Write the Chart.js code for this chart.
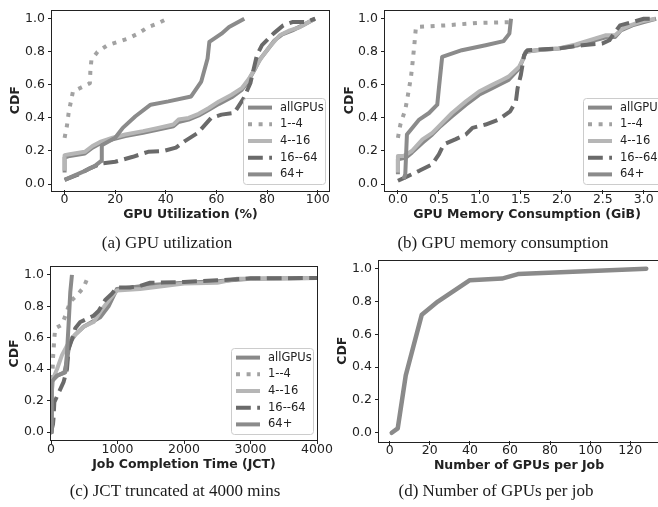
<!DOCTYPE html>
<html><head><meta charset="utf-8">
<script src="https://cdn.jsdelivr.net/npm/chart.js@4.4.1/dist/chart.umd.min.js"></script>
<style>
html,body{margin:0;padding:0;background:#fff;}
body{position:relative;width:658px;height:507px;overflow:hidden;}
canvas{position:absolute;display:block;}
.cap{position:absolute;font-family:'Liberation Serif','Times New Roman',serif;font-size:17px;color:#1a1a1a;white-space:nowrap;transform:translate(-50%,-50%);line-height:1;}
</style></head>
<body>
<canvas id="ca" width="330" height="230" style="left:0;top:0"></canvas>
<canvas id="cb" width="342" height="230" style="left:330px;top:0"></canvas>
<canvas id="cc" width="335" height="240" style="left:0;top:250px"></canvas>
<canvas id="cd" width="342" height="240" style="left:330px;top:250px"></canvas>
<div class="cap" style="left:167px;top:242px">(a) GPU utilization</div>
<div class="cap" style="left:503px;top:242px">(b) GPU memory consumption</div>
<div class="cap" style="left:175px;top:490px">(c) JCT truncated at 4000 mins</div>
<div class="cap" style="left:496px;top:490px">(d) Number of GPUs per job</div>
<script>
// ---------- data ----------
const seriesLabels = ['allGPUs', '1--4', '4--16', '16--64', '64+'];
const cdfTicks = [0, 0.2, 0.4, 0.6, 0.8, 1.0];
const utilTicks = [0, 20, 40, 60, 80, 100];
const memTicks = [0, 0.5, 1.0, 1.5, 2.0, 2.5, 3.0];
const jctTicks = [0, 1000, 2000, 3000, 4000];
const gpuTicks = [0, 20, 40, 60, 80, 100, 120];

// (a) GPU utilization (%) -> CDF
const utilAll = [[0,0.07],[0,0.16],[2,0.17],[8,0.185],[11,0.22],[14,0.245],[19,0.27],[24,0.29],[31,0.31],[37,0.33],[43,0.35],[45,0.375],[49,0.39],[53,0.415],[57,0.45],[61,0.485],[66,0.525],[70,0.57],[72,0.61],[75,0.69],[77,0.75],[80,0.81],[83,0.87],[86,0.905],[90,0.93],[94,0.96],[99,1.0]];
const util1to4 = [[0,0.28],[0.9,0.35],[1.6,0.43],[2.5,0.5],[3.3,0.56],[6,0.58],[10,0.61],[10.2,0.69],[10.6,0.75],[13,0.8],[17,0.84],[21,0.86],[25,0.88],[29,0.91],[33,0.95],[36.5,0.97],[40.5,1.0]];
const util4to16 = [[0,0.08],[0,0.175],[2,0.18],[8,0.195],[11,0.23],[14,0.255],[19,0.28],[24,0.3],[31,0.32],[37,0.34],[43,0.36],[45,0.39],[49,0.4],[53,0.425],[57,0.46],[61,0.5],[66,0.54],[70,0.58],[73,0.64],[76,0.72],[78,0.77],[81,0.83],[85,0.9],[89,0.93],[93,0.95],[96.5,0.98],[99,1.0]];
const util16to64 = [[0,0.025],[5,0.055],[10,0.095],[14.5,0.125],[20,0.135],[27,0.165],[33,0.195],[39,0.2],[44,0.22],[47.5,0.26],[52.7,0.31],[57.9,0.4],[62,0.42],[67,0.43],[70.8,0.52],[73.4,0.61],[76,0.78],[78,0.84],[82.5,0.91],[86.4,0.96],[90,0.98],[95,0.98],[99,1.0]];
const util64plus = [[0,0.025],[7.4,0.075],[12,0.11],[14.5,0.14],[14.7,0.235],[20,0.28],[23,0.34],[28,0.41],[34,0.48],[41,0.5],[50,0.53],[54,0.62],[56.5,0.76],[57.2,0.86],[62,0.91],[65,0.95],[71,1.0]];

// (b) GPU memory consumption (GiB) -> CDF
const memAll = [[0,0.06],[0,0.15],[0.1,0.16],[0.17,0.19],[0.3,0.25],[0.42,0.3],[0.52,0.35],[0.66,0.41],[0.83,0.48],[0.99,0.54],[1.15,0.58],[1.27,0.61],[1.35,0.63],[1.48,0.7],[1.53,0.76],[1.56,0.8],[1.7,0.81],[1.96,0.82],[2.2,0.84],[2.4,0.87],[2.55,0.89],[2.65,0.89],[2.72,0.93],[2.86,0.96],[3.0,0.98],[3.15,1.0]];
const mem1to4 = [[0,0.28],[0.03,0.36],[0.09,0.45],[0.13,0.56],[0.16,0.65],[0.18,0.74],[0.2,0.84],[0.22,0.95],[0.58,0.96],[0.99,0.975],[1.38,0.98],[1.39,1.0]];
const mem4to16 = [[0,0.07],[0,0.17],[0.07,0.17],[0.17,0.2],[0.3,0.27],[0.42,0.31],[0.52,0.36],[0.66,0.43],[0.83,0.5],[0.99,0.56],[1.15,0.6],[1.27,0.63],[1.35,0.65],[1.48,0.71],[1.52,0.75],[1.56,0.8],[1.68,0.81],[1.96,0.82],[2.17,0.845],[2.37,0.875],[2.53,0.9],[2.65,0.9],[2.74,0.94],[2.86,0.965],[2.98,0.985],[3.14,1.0]];
const mem16to64 = [[0,0.02],[0.09,0.04],[0.26,0.08],[0.42,0.12],[0.5,0.18],[0.56,0.24],[0.7,0.27],[0.83,0.3],[0.91,0.34],[1.07,0.36],[1.23,0.39],[1.37,0.44],[1.44,0.5],[1.46,0.58],[1.5,0.66],[1.54,0.78],[1.58,0.81],[1.96,0.82],[2.25,0.84],[2.49,0.85],[2.58,0.87],[2.65,0.92],[2.71,0.96],[2.86,0.98],[3.0,1.0],[3.14,1.0]];
const mem64plus = [[0.07,0.03],[0.09,0.06],[0.11,0.3],[0.26,0.39],[0.38,0.43],[0.48,0.48],[0.5,0.58],[0.54,0.77],[0.78,0.81],[1.07,0.84],[1.29,0.865],[1.36,0.91],[1.38,1.0]];

// (c) JCT (mins) -> CDF
const jctAll = [[0,0],[10,0.2],[20,0.33],[100,0.36],[200,0.38],[240,0.45],[265,0.53],[300,0.58],[365,0.62],[490,0.67],[615,0.7],[740,0.73],[865,0.8],[990,0.91],[1200,0.92],[1500,0.935],[2000,0.95],[2500,0.96],[3000,0.975],[4000,0.98]];
const jct1to4 = [[0,0],[5,0.2],[15,0.34],[25,0.4],[30,0.47],[40,0.53],[50,0.6],[65,0.66],[150,0.68],[190,0.71],[240,0.77],[290,0.83],[390,0.87],[490,0.92],[550,0.98]];
const jct4to16 = [[0,0],[10,0.25],[30,0.34],[90,0.4],[165,0.49],[240,0.55],[340,0.61],[490,0.67],[640,0.7],[765,0.78],[890,0.85],[990,0.9],[1340,0.91],[2000,0.945],[2500,0.95],[2800,0.975],[4000,0.98]];
const jct16to64 = [[0,0],[30,0.05],[40,0.1],[50,0.19],[115,0.25],[190,0.32],[240,0.4],[265,0.53],[315,0.59],[365,0.66],[440,0.7],[640,0.74],[715,0.77],[815,0.84],[915,0.88],[990,0.92],[1190,0.92],[1340,0.93],[1490,0.95],[2000,0.955],[2500,0.965],[3000,0.978],[4000,0.98]];
const jct64plus = [[0,0],[8,0.3],[15,0.32],[90,0.36],[215,0.38],[240,0.5],[264,0.68],[290,0.89],[315,1.0]];

// (d) Number of GPUs per job -> CDF
const gpuCount = [1, 4, 8, 16, 24, 40, 56, 64, 128];
const gpuCdf = [0, 0.027, 0.35, 0.72, 0.80, 0.93, 0.94, 0.967, 1.0];

// ---------- styling ----------
const FAM = "'DejaVu Sans', sans-serif";
const INK = '#222';
const styles = [
  {color:'#898989', dash:[]},
  {color:'#a2a2a2', dash:[4,6.6]},
  {color:'#b6b6b6', dash:[]},
  {color:'#6a6a6a', dash:[14.8,6.4]},
  {color:'#8b8b8b', dash:[]}
];

function makeSets(list) {
  return list.map((pts, i) => ({
    label: seriesLabels[i],
    data: pts.map(p => ({x:p[0], y:p[1]})),
    borderColor: styles[i].color,
    borderDash: styles[i].dash,
    borderWidth: 4,
    borderCapStyle: 'butt',
    borderJoinStyle: 'round',
    pointRadius: 0,
    fill: false,
    tension: 0,
    order: 10 - i
  }));
}

const framePlugin = {
  id: 'frame',
  afterDatasetsDraw(chart) {
    const a = chart.chartArea, ctx = chart.ctx;
    ctx.save();
    ctx.strokeStyle = INK; ctx.lineWidth = 1;
    ctx.strokeRect(Math.round(a.left) - 0.5, Math.round(a.top) - 0.5, Math.round(a.right - a.left) + 1, Math.round(a.bottom - a.top) + 1);
    ctx.restore();
  }
};

function legendPlugin(L) {
  return {
    id: 'boxLegend',
    afterDraw(chart) {
      if (!L) return;
      const ctx = chart.ctx, a = chart.chartArea;
      const x0 = Math.round(a.right - L.dr - L.w), y0 = Math.round(a.bottom - L.db - L.h);
      ctx.save();
      ctx.beginPath();
      ctx.roundRect(x0 + 0.5, y0 + 0.5, L.w, L.h, 3);
      ctx.fillStyle = 'rgba(255,255,255,0.85)'; ctx.fill();
      ctx.strokeStyle = '#cccccc'; ctx.lineWidth = 1; ctx.stroke();
      const sets = chart.data.datasets, step = 16.7;
      const first = y0 + (L.h - (sets.length - 1) * step) / 2;
      sets.forEach((d, i) => {
        const yy = first + i * step;
        ctx.beginPath();
        ctx.setLineDash(d.borderDash || []);
        ctx.lineCap = 'butt';
        ctx.strokeStyle = d.borderColor; ctx.lineWidth = d.borderWidth;
        ctx.moveTo(x0 + 5, yy); ctx.lineTo(x0 + 29, yy); ctx.stroke();
        ctx.setLineDash([]);
        ctx.fillStyle = INK; ctx.font = '11.5px ' + FAM;
        ctx.textBaseline = 'middle'; ctx.textAlign = 'left';
        ctx.fillText(d.label, x0 + 37, yy);
      });
      ctx.restore();
    }
  };
}

function build(id, g, datasets) {
  const gridOpt = {display:true, drawOnChartArea:false, drawTicks:true, tickLength:4, color:INK, lineWidth:1};
  new Chart(document.getElementById(id), {
    type: 'line',
    data: {datasets},
    options: {
      responsive: false, animation: false, devicePixelRatio: 1,
      layout: {padding: g.pad},
      plugins: {legend: {display:false}, tooltip: {enabled:false}},
      scales: {
        x: {
          type: 'linear', min: g.xMin, max: g.xMax,
          afterBuildTicks: s => { s.ticks = g.xTicks.map(v => ({value:v})); },
          afterFit: s => { s.height = g.xH; },
          grid: gridOpt, border: {display:false},
          ticks: {color:INK, font:{family:FAM, size:12.5}, padding:-1.5, maxRotation:0, autoSkip:false, callback: v => g.xFmt(v)},
          title: {display:true, text:g.xTitle, color:INK, font:{family:FAM, size:12.5, weight:'bold'}, padding:{top:0, bottom:g.xTitlePad}}
        },
        y: {
          type: 'linear', min: g.yMin, max: g.yMax,
          afterBuildTicks: s => { s.ticks = cdfTicks.map(v => ({value:v})); },
          afterFit: s => { s.width = g.yW; },
          grid: gridOpt, border: {display:false},
          ticks: {color:INK, font:{family:FAM, size:12.5}, padding:3, autoSkip:false, callback: v => v.toFixed(1)},
          title: {display:true, text:'CDF', color:INK, font:{family:FAM, size:12.5, weight:'bold'}, padding:{top:g.yTitlePad, bottom:0}}
        }
      }
    },
    plugins: [framePlugin, legendPlugin(g.legend)]
  });
}

const legendBox = {w:82, h:86, dr:4, db:6};

build('ca', {pad:{left:0, top:9, right:1, bottom:0}, yW:52, xH:40, xMin:-4.975, xMax:104.475, yMin:-0.036, yMax:1.05,
  xTicks:utilTicks, xFmt:v => String(v), xTitle:'GPU Utilization (%)', xTitlePad:7.5, yTitlePad:8.5, legend:legendBox},
  makeSets([utilAll, util1to4, util4to16, util16to64, util64plus]));

build('cb', {pad:{left:0, top:9, right:3, bottom:0}, yW:55, xH:40, xMin:-0.1575, xMax:3.3075, yMin:-0.036, yMax:1.05,
  xTicks:memTicks, xFmt:v => v.toFixed(1), xTitle:'GPU Memory Consumption (GiB)', xTitlePad:7.5, yTitlePad:12.5, legend:legendBox},
  makeSets([memAll, mem1to4, mem4to16, mem16to64, mem64plus]));

build('cc', {pad:{left:0, top:17, right:18, bottom:0}, yW:51, xH:50, xMin:0, xMax:4000, yMin:-0.05, yMax:1.05,
  xTicks:jctTicks, xFmt:v => String(v), xTitle:'Job Completion Time (JCT)', xTitlePad:17.5, yTitlePad:7.5, legend:legendBox},
  makeSets([jctAll, jct1to4, jct4to16, jct16to64, jct64plus]));

build('cd', {pad:{left:0, top:9, right:13, bottom:0}, yW:49, xH:49, xMin:-5.35, xMax:134.35, yMin:-0.05, yMax:1.05,
  xTicks:gpuTicks, xFmt:v => String(v), xTitle:'Number of GPUs per Job', xTitlePad:16.5, yTitlePad:5.5, legend:null},
  [{label:'GPUs per job', data:gpuCount.map((c, i) => ({x:c, y:gpuCdf[i]})), borderColor:'#8a8a8a', borderWidth:4.5,
    borderJoinStyle:'round', borderCapStyle:'round', pointRadius:0, fill:false, tension:0}]);
</script>
</body></html>
